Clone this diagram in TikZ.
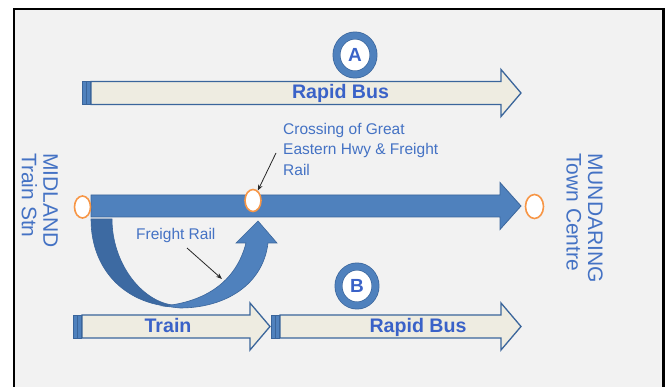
\documentclass[tikz,border=0pt]{standalone}
\usepackage{fontspec}
\setmainfont{Liberation Sans}
\usetikzlibrary{arrows.meta,shapes.geometric}

\definecolor{bluefill}{HTML}{4F81BD}
\definecolor{blueedge}{HTML}{3A659B}
\definecolor{bluedark}{HTML}{3D6AA2}
\definecolor{cream}{HTML}{EEECE1}
\definecolor{textblue}{HTML}{4472C4}
\definecolor{boldblue}{HTML}{3A62C8}
\definecolor{stopring}{HTML}{F79646}
\definecolor{panel}{HTML}{F2F2F2}

\tikzset{
  arrowedge/.style={draw=blueedge, line width=1.3pt, line join=miter},
  stopmark/.style={ellipse, draw=stopring, line width=1.6pt, fill=white,
    minimum width=16pt, minimum height=22pt, inner sep=0pt},
  optionmark/.style={ellipse, draw=blueedge, double=bluefill, double distance=6.5pt,
    line width=0.7pt, fill=white, minimum width=37pt, minimum height=39pt,
    inner sep=0pt, text=boldblue, font=\fontsize{19}{19}\selectfont\bfseries},
  boldlbl/.style={text=boldblue, inner sep=0pt, font=\fontsize{19.6}{22}\selectfont\bfseries},
  notelbl/.style={text=textblue, inner sep=0pt, align=left, font=\fontsize{15.5}{20.5}\selectfont},
  sidelbl/.style={text=textblue, inner sep=0pt, align=left, rotate=-90,
    anchor=north west, font=\fontsize{21}{21.5}\selectfont},
  pointer/.style={draw=black!85, line width=0.8pt, -{Stealth[length=6pt, width=4.5pt]}},
}

% striped block arrow: #1 stripe x, #2 body start x, #3 head start x, #4 tip x, #5 centre y
\newcommand\stripedarrow[5]{%
  \begin{scope}[shift={(0,#5)}]
    \draw[arrowedge, fill=cream] (#2,-11.5) -- (#3,-11.5) -- (#3,-23.5) -- (#4,0)
      -- (#3,23.5) -- (#3,11.5) -- (#2,11.5) -- cycle;
    \draw[arrowedge, line width=0.8pt, fill=bluefill] (#1,-11.5) rectangle ++(4,23);
    \draw[arrowedge, line width=0.8pt, fill=bluefill] (#1+4.5,-11.5) rectangle ++(4,23);
  \end{scope}}

\begin{document}
\begin{tikzpicture}[x=1pt, y=-1pt]
\useasboundingbox (0,0) rectangle (667,387);
\fill[white] (0,0) rectangle (667,387);
\draw[line width=2.5pt, fill=panel] (14,9) rectangle (663.5,400);

% option A: rapid bus all the way
\stripedarrow{82}{91}{501}{521}{93}
\node[boldlbl, anchor=base] (busA) at (340.5,99) {Rapid Bus};
\node[optionmark] (optA) at (355,55) {A};

% main corridor
\draw[arrowedge, line width=0.8pt, fill=bluefill]
  (91,195) -- (500,195) -- (500,182.5) -- (521,206) -- (500,229.5) -- (500,217) -- (91,217) -- cycle;

% freight rail loop
\draw[draw=blueedge, line width=0.6pt, fill=bluedark]
  (91,219) -- (112,219) .. controls (112,262) and (140,300) .. (172,305)
  -- (180,307) .. controls (128,307) and (91,272) .. (91,219) -- cycle;
\draw[draw=blueedge, line width=0.6pt, fill=bluefill]
  (163,306) .. controls (205,302) and (236,282) .. (246,243) -- (236,243) -- (258,221)
  -- (277,243) -- (268,243) .. controls (263,285) and (225,308) .. (180,308) -- cycle;

% stops
\node[stopmark] (midlandstop) at (82.5,207) {};
\node[stopmark] (crossstop) at (253,200.5) {};
\node[stopmark, minimum width=18pt, minimum height=24pt] (mundstop) at (534.5,206.5) {};

% end labels
\node[sidelbl] (midland) at (58,153) {MIDLAND\\Train Stn};
\node[sidelbl] (mundaring) at (603,153) {MUNDARING\\Town Centre};

% notes and pointers
\node[notelbl, anchor=north west] (crossnote) at (283,123) {Crossing of Great\\Eastern Hwy \& Freight\\Rail};
\coordinate (crosstail) at (276,153);
\draw[pointer] (crosstail) -- (crossstop);

\node[notelbl, anchor=base west] (freightlbl) at (136,240) {Freight Rail};
\coordinate (freighttail) at (187,248);
\coordinate (freighthit) at (222,279);
\draw[pointer] (freighttail) -- (freighthit);

% option B: train then rapid bus
\node[optionmark] (optB) at (357,286) {B};
\stripedarrow{73}{82}{250}{270}{326.5}
\stripedarrow{271}{280}{501}{521}{326.5}
\node[boldlbl, anchor=base] (train) at (168,333) {Train};
\node[boldlbl, anchor=base] (busB) at (418,333) {Rapid Bus};
\end{tikzpicture}
\end{document}
